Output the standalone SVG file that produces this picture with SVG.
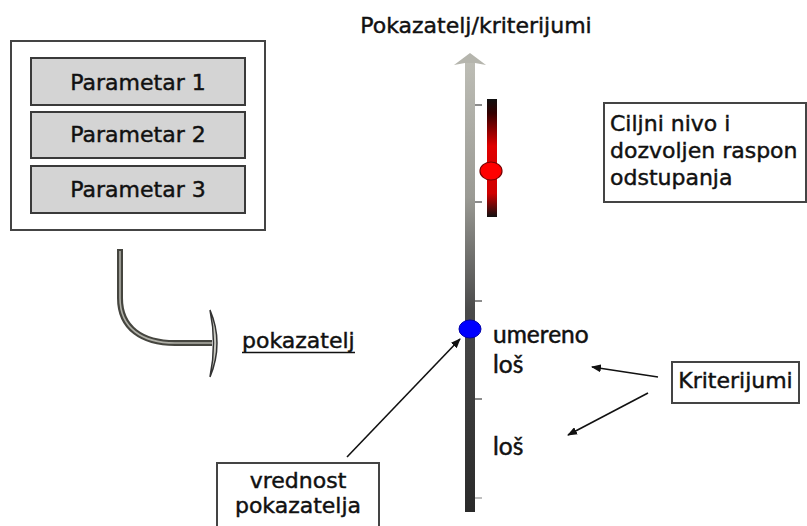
<svg xmlns="http://www.w3.org/2000/svg" width="807" height="526" viewBox="0 0 807 526">
<style>
.t{font-family:"DejaVu Sans",Verdana,sans-serif;font-size:22px;fill:#111;stroke:#111;stroke-width:0.45}
.c{font-family:Lato,"Liberation Sans",sans-serif;font-size:24.5px;fill:#111;stroke:#111;stroke-width:0.45}
.box{fill:#fff;stroke:#444;stroke-width:2}
.pbox{fill:#d4d4d4;stroke:#3a3a3a;stroke-width:2}
.arr{stroke:#111;stroke-width:1.6;fill:none;marker-end:url(#ah)}
</style>
<defs>
<marker id="ah" markerWidth="10" markerHeight="8" refX="9" refY="4" orient="auto" markerUnits="userSpaceOnUse">
<path d="M0,0 L10,4 L0,8 Z" fill="#111"/>
</marker>
<linearGradient id="shaft" x1="0" y1="0" x2="0" y2="1">
<stop offset="0" stop-color="#bdbdb5"/>
<stop offset="0.3" stop-color="#9a9a94"/>
<stop offset="0.55" stop-color="#4a4a4a"/>
<stop offset="1" stop-color="#2a2a2a"/>
</linearGradient>
<linearGradient id="red" x1="0" y1="0" x2="0" y2="1">
<stop offset="0" stop-color="#111"/>
<stop offset="0.12" stop-color="#300"/>
<stop offset="0.4" stop-color="#e00000"/>
<stop offset="0.8" stop-color="#d00000"/>
<stop offset="1" stop-color="#111"/>
</linearGradient>
</defs>

<g id="parameters">
<rect x="11" y="41" width="254" height="189" class="box" stroke-width="1.5"/>
<g id="param1"><rect x="31" y="58" width="214" height="47" class="pbox"/><text x="138" y="90" class="t" text-anchor="middle">Parametar 1</text></g>
<g id="param2"><rect x="31" y="112" width="214" height="46" class="pbox"/><text x="138" y="142" class="t" text-anchor="middle">Parametar 2</text></g>
<g id="param3"><rect x="31" y="166" width="214" height="47" class="pbox"/><text x="138" y="197" class="t" text-anchor="middle">Parametar 3</text></g>
</g>

<g id="curved-arrow">
<path d="M120 249 V298 C120 328 142 343 175 343 H212" fill="none" stroke="#45453f" stroke-width="6"/>
<path d="M120 251 V298 C120 328 142 343 175 343 H212" fill="none" stroke="#b0b0a8" stroke-width="1.6"/>
<path d="M210 310 Q224 343 210 377 Q217 343 210 310 Z" fill="#c8c8c0" stroke="#333" stroke-width="1.5"/>
</g>

<g id="pokazatelj">
<text x="242" y="348" class="t">pokazatelj</text>
<line x1="242" y1="352.5" x2="355" y2="352.5" stroke="#111" stroke-width="1.5"/>
</g>

<g id="axis">
<rect x="465" y="62" width="10" height="450" fill="url(#shaft)"/>
<path d="M470 53 L486 65 L475 63 L465 63 L454 65 Z" fill="#b5b5ad"/>
<g stroke="#666" stroke-width="1.5">
<line x1="475" y1="105" x2="482" y2="105"/>
<line x1="475" y1="202" x2="482" y2="202"/>
<line x1="475" y1="301" x2="482" y2="301"/>
<line x1="475" y1="399" x2="482" y2="399"/>
<line x1="475" y1="498" x2="482" y2="498" stroke="#aaa"/>
</g>
<text x="476" y="33" class="t" text-anchor="middle">Pokazatelj/kriterijumi</text>
</g>

<g id="target-range">
<rect x="487" y="99" width="10" height="118" fill="url(#red)"/>
<ellipse cx="491" cy="171" rx="11" ry="9" fill="#ff0000" stroke="#700" stroke-width="1.2"/>
</g>

<g id="value-point">
<ellipse cx="470" cy="329" rx="11" ry="9" fill="#0000ff" stroke="#0000aa" stroke-width="1"/>
</g>

<g id="labels">
<text x="493" y="343" class="c">umereno</text>
<text x="493" y="373" class="c">loš</text>
<text x="493" y="455" class="c">loš</text>
</g>

<g id="ciljni">
<rect x="604" y="103" width="202" height="99" class="box" stroke-width="1.5"/>
<text x="610" y="131" class="t">Ciljni nivo i</text>
<text x="610" y="158" class="t">dozvoljen raspon</text>
<text x="610" y="185" class="t">odstupanja</text>
</g>

<g id="kriterijumi">
<rect x="672" y="362" width="127" height="41" class="box"/>
<text x="735.5" y="388" class="t" text-anchor="middle">Kriterijumi</text>
</g>

<g id="vrednost">
<rect x="217" y="463" width="162" height="80" class="box"/>
<text x="298" y="488" class="t" text-anchor="middle">vrednost</text>
<text x="298" y="513" class="t" text-anchor="middle">pokazatelja</text>
</g>

<g id="connectors">
<line x1="347" y1="457" x2="460" y2="339" class="arr"/>
<line x1="658" y1="377" x2="592" y2="367" class="arr"/>
<line x1="648" y1="393" x2="568" y2="435" class="arr"/>
</g>
</svg>
